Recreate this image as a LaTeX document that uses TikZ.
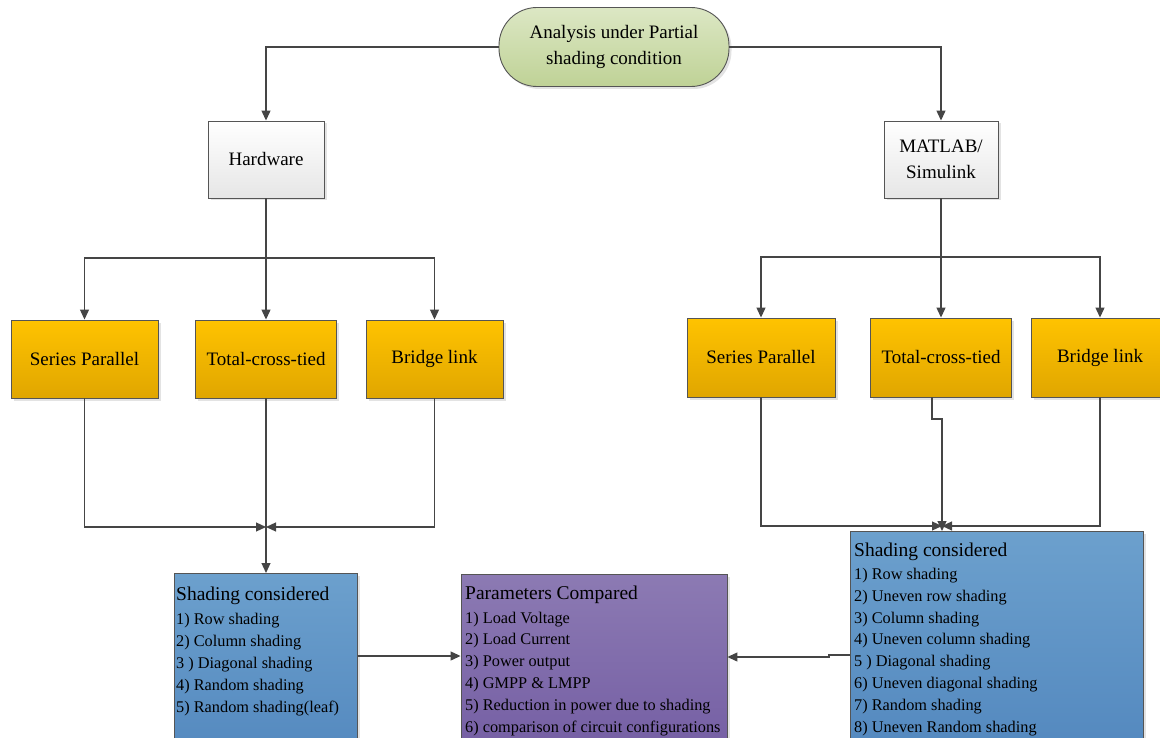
\documentclass[tikz,border=0pt]{standalone}
\usepackage{fontspec}
\setmainfont{Liberation Serif}
\usetikzlibrary{arrows.meta,shadows}

\definecolor{linegray}{HTML}{454545}
\definecolor{boxborder}{HTML}{555555}
\definecolor{olivetop}{HTML}{DCE7C4}
\definecolor{olivebot}{HTML}{BFD296}
\definecolor{graytop}{HTML}{FFFFFF}
\definecolor{graybot}{HTML}{E6E6E6}
\definecolor{orangetop}{HTML}{FFC300}
\definecolor{orangebot}{HTML}{E0A600}
\definecolor{bluetop}{HTML}{6CA0CD}
\definecolor{bluebot}{HTML}{4F84BC}
\definecolor{purpletop}{HTML}{8C7AB3}
\definecolor{purplebot}{HTML}{6F58A0}

\begin{document}
\begin{tikzpicture}[x=1pt,y=-1pt,
  line/.style={draw=linegray, line width=1.2pt},
  arr/.style={line, -{Triangle[length=10pt,width=9pt]}},
  box/.style={draw=boxborder, line width=0.9pt, inner sep=0pt,
    drop shadow={opacity=0.22, shadow xshift=2.5pt, shadow yshift=-2.5pt}},
  label/.style={font=\fontsize{19}{25.6}\selectfont, align=center},
  startbox/.style={box, label, top color=olivetop, bottom color=olivebot,
    rounded corners=38pt, minimum width=230pt, minimum height=79pt},
  toolbox/.style={box, label, top color=graytop, bottom color=graybot,
    minimum height=77pt},
  cfgbox/.style={box, label, top color=orangetop, bottom color=orangebot,
    minimum height=78pt},
  bluebox/.style={box, top color=bluetop, bottom color=bluebot, anchor=north},
  purplebox/.style={box, top color=purpletop, bottom color=purplebot, anchor=north},
  heading/.style={font=\fontsize{19.5}{23}\selectfont, anchor=base west, inner sep=0pt},
  item/.style={font=\fontsize{16.3}{22}\selectfont, anchor=base west, inner sep=0pt},
]
\useasboundingbox (0,0) rectangle (1160,738);
\clip (0,0) rectangle (1160,738);

% top of the tree
\node[startbox] (start) at (614,47) {Analysis under Partial\\shading condition};
\node[toolbox, minimum width=116pt] (hw) at (266,159.5) {Hardware};
\node[toolbox, minimum width=114pt] (ml) at (941,159.5) {MATLAB/\\Simulink};

% circuit configurations
\node[cfgbox, minimum width=147pt] (lsp)  at (84.5,359) {Series Parallel};
\node[cfgbox, minimum width=141pt] (ltct) at (266,359)  {Total-cross-tied};
\node[cfgbox, minimum width=137pt] (lbl)  at (434.5,359) {Bridge link};
\node[cfgbox, minimum width=148pt, minimum height=79pt] (rsp)  at (761,357.5) {Series Parallel};
\node[cfgbox, minimum width=141pt, minimum height=79pt] (rtct) at (941,357.5) {Total-cross-tied};
\node[cfgbox, minimum width=138pt, minimum height=79pt] (rbl)  at (1100,357.5) {Bridge link};

% shading and parameter boxes
\node[bluebox, minimum width=183pt, minimum height=220pt] (lblue) at (266,573) {};
\node[purplebox, minimum width=266pt, minimum height=220pt] (purple) at (594,574) {};
\node[bluebox, minimum width=293pt, minimum height=260pt] (rblue) at (996.5,531) {};

\node[heading] (lbh) at (176,600) {Shading considered};
\foreach \t [count=\k from 0] in {1) Row shading, 2) Column shading,
    3 ) Diagonal shading, 4) Random shading, 5) Random shading(leaf)}
  \node[item] (lbi\k) at (176,{624+22*\k}) {\t};

\node[heading] (pph) at (465,599) {Parameters Compared};
\foreach \t [count=\k from 0] in {1) Load Voltage, 2) Load Current,
    3) Power output, 4) GMPP \& LMPP, 5) Reduction in power due to shading,
    6) comparison of circuit configurations}
  \node[item] (ppi\k) at (465,{623+21.8*\k}) {\t};

\node[heading] (rbh) at (854,556) {Shading considered};
\foreach \t [count=\k from 0] in {1) Row shading, 2) Uneven row shading,
    3) Column shading, 4) Uneven column shading, 5 ) Diagonal shading,
    6) Uneven diagonal shading, 7) Random shading, 8) Uneven Random shading}
  \node[item] (rbi\k) at (854,{579.5+21.8*\k}) {\t};

% junction points
\coordinate (lbus) at (266,258);
\coordinate (rbus) at (941,257);
\coordinate (lj) at (266,527);
\coordinate (rj) at (942,526);
\coordinate (rk) at (932,419);
\coordinate (lrow) at (0,656);
\coordinate (rrow) at (0,655);
\coordinate (rstep) at (829,655);
\coordinate (prow) at (0,657);

% connectors
\draw[arr] (start.west) -| (hw.north);
\draw[arr] (start.east) -| (ml.north);

\draw[arr] (hw.south) -- (ltct.north);
\draw[arr] (lbus) -| (lsp.north);
\draw[arr] (lbus) -| (lbl.north);

\draw[arr] (ml.south) -- (rtct.north);
\draw[arr] (rbus) -| (rsp.north);
\draw[arr] (rbus) -| (rbl.north);

\draw[arr] (lsp.south) |- (lj);
\draw[arr] (lbl.south) |- (lj);
\draw[arr] (ltct.south) -- (lblue.north);

\draw[arr] (rsp.south) |- (rj);
\draw[arr] (rbl.south) |- (rj);
\draw[arr] (rtct.south -| rk) -- (rk) -| (rj) -- (rj |- rblue.north);

\draw[arr] (lblue.east |- lrow) -- (purple.west |- lrow);
\draw[arr] (rblue.west |- rrow) -- (rstep) |- (purple.east |- prow);
\end{tikzpicture}
\end{document}
